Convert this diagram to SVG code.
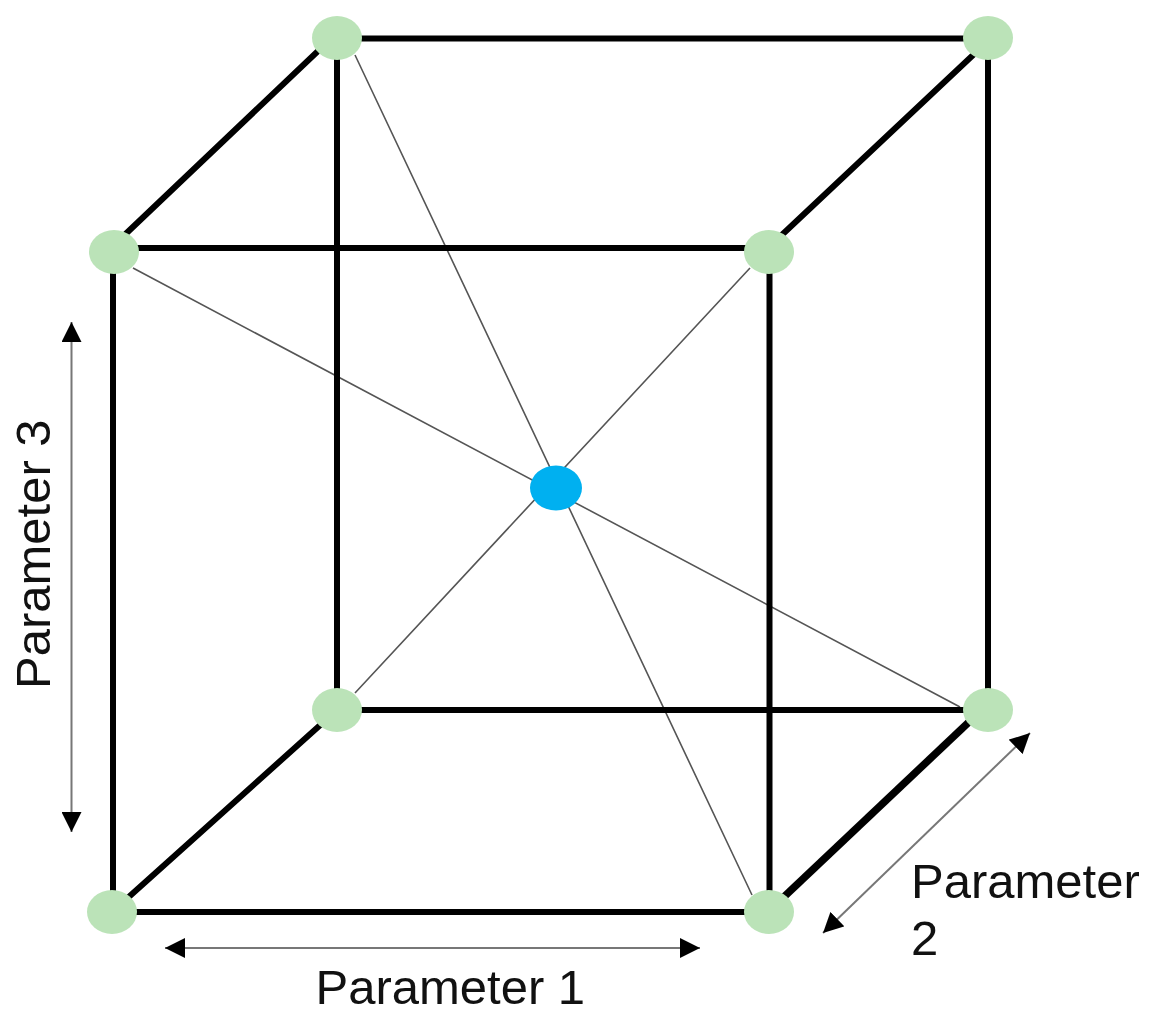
<svg xmlns="http://www.w3.org/2000/svg" width="1158" height="1024" viewBox="0 0 1158 1024">
<style>
.e{stroke:#000;stroke-width:6;fill:none}
.w{stroke:#000;stroke-width:7.500;fill:none}
.d{stroke:#555;stroke-width:1.600;fill:none}
.a{stroke:#777;stroke-width:2;fill:none}
.n{fill:#bbe3b8}
.t{font-family:"Liberation Sans",Arial,sans-serif;font-size:49px;fill:#111}
</style>
<defs><marker id="h" viewBox="0 0 10 10" refX="10" refY="5" markerWidth="20" markerHeight="20" markerUnits="userSpaceOnUse" orient="auto-start-reverse"><path d="M0 0L10 5L0 10Z" fill="#000"/></marker></defs>
<rect width="1158" height="1024" fill="#fff"/>
<g id="connectors">
<path class="d" d="M355 55L752 895M133 268L960 707M750 268L355 693"/>
<path class="e" d="M337 38.500H988M114 248H769M337 710H988M113 912H769M337 38V710M988 38V710M113 252V912M769.500 252V912M337 33L114 245M988 41L769 247M337 710L112 912"/>
<path class="w" d="M988 704L769 911"/>
<path class="a" marker-start="url(#h)" marker-end="url(#h)" d="M71.500 322V832"/>
<path class="a" marker-start="url(#h)" marker-end="url(#h)" d="M165 948H700"/>
<path class="a" marker-start="url(#h)" marker-end="url(#h)" d="M1030 733L823 933"/>
</g>
<g id="node-top-back-left"><ellipse class="n" cx="337" cy="38" rx="25" ry="22"/></g>
<g id="node-top-back-right"><ellipse class="n" cx="988" cy="38" rx="25" ry="22"/></g>
<g id="node-top-front-left"><ellipse class="n" cx="114" cy="252" rx="25" ry="22"/></g>
<g id="node-top-front-right"><ellipse class="n" cx="769" cy="252" rx="25" ry="22"/></g>
<g id="node-bottom-back-left"><ellipse class="n" cx="337" cy="710" rx="25" ry="22"/></g>
<g id="node-bottom-back-right"><ellipse class="n" cx="988" cy="710" rx="25" ry="22"/></g>
<g id="node-bottom-front-left"><ellipse class="n" cx="112" cy="912" rx="25" ry="22"/></g>
<g id="node-bottom-front-right"><ellipse class="n" cx="769" cy="912" rx="25" ry="22"/></g>
<g id="node-center"><ellipse cx="556" cy="488" rx="26" ry="22.500" fill="#00b0f0"/></g>
<g id="labels">
<text class="t" x="315.500" y="1004">Parameter 1</text>
<text class="t" transform="translate(50 689) rotate(-90)">Parameter 3</text>
<text class="t" x="911" y="898">Parameter</text>
<text class="t" x="911" y="955">2</text>
</g>
</svg>
